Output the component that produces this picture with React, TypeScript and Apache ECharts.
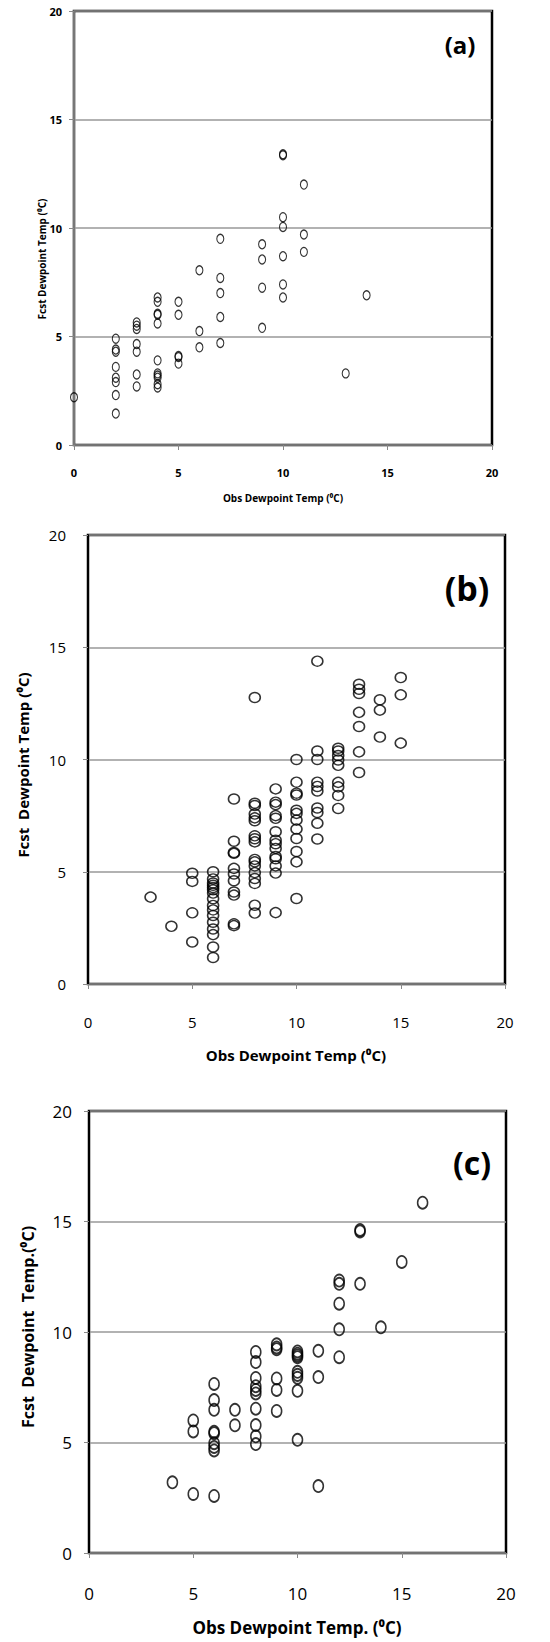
import React, { useEffect, useRef } from "react";
import * as echarts from "echarts";

const AXIS_MIN = 0;
const AXIS_MAX = 20;
const AXIS_STEP = 5;

const PANEL_LABELS = ["(a)", "(b)", "(c)"];
const X_TITLES = [
  "Obs Dewpoint Temp (\u2070C)",
  "Obs Dewpoint Temp (\u2070C)",
  "Obs Dewpoint Temp. (\u2070C)",
];
const Y_TITLES = [
  "Fcst Dewpoint Temp (\u2070C)",
  "Fcst  Dewpoint Temp (\u2070C)",
  "Fcst  Dewpoint  Temp.(\u2070C)",
];

// Panel (a): [observed, forecast]
const dataA: number[][] = [
  [0, 2.2],
  [2, 4.9], [2, 4.4], [2, 4.3], [2, 3.6], [2, 3.1], [2, 2.9], [2, 2.3], [2, 1.45],
  [3, 5.65], [3, 5.5], [3, 5.35], [3, 4.65], [3, 4.3], [3, 3.25], [3, 2.7],
  [4, 6.8], [4, 6.6], [4, 6.05], [4, 6.0], [4, 5.6], [4, 3.9], [4, 3.3], [4, 3.2], [4, 3.1], [4, 2.8], [4, 2.65],
  [5, 6.6], [5, 6.0], [5, 4.1], [5, 4.05], [5, 3.75],
  [6, 8.05], [6, 5.25], [6, 4.5],
  [7, 9.5], [7, 7.7], [7, 7.0], [7, 5.9], [7, 4.7],
  [9, 9.25], [9, 8.55], [9, 7.25], [9, 5.4],
  [10, 13.4], [10, 13.35], [10, 10.5], [10, 10.05], [10, 8.7], [10, 7.4], [10, 6.8],
  [11, 12.0], [11, 9.7], [11, 8.9],
  [13, 3.3], [14, 6.9],
];

// Panel (b)
const dataB: number[][] = [
  [3, 3.87], [4, 2.57],
  [5, 4.93], [5, 4.57], [5, 3.17], [5, 1.87],
  [6, 5.0], [6, 4.68], [6, 4.5], [6, 4.4], [6, 4.3], [6, 4.2], [6, 4.05], [6, 3.8], [6, 3.5], [6, 3.3], [6, 3.05], [6, 2.75], [6, 2.45], [6, 2.2], [6, 1.65], [6, 1.18],
  [7, 8.24], [7, 6.36], [7, 5.86], [7, 5.82], [7, 5.15], [7, 4.9], [7, 4.6], [7, 4.1], [7, 3.96], [7, 2.68], [7, 2.6],
  [8, 12.76], [8, 8.05], [8, 7.95], [8, 7.57], [8, 7.4], [8, 7.27], [8, 6.6], [8, 6.47], [8, 6.33], [8, 5.55], [8, 5.44], [8, 5.26], [8, 4.96], [8, 4.7], [8, 4.48], [8, 3.51], [8, 3.16],
  [9, 8.69], [9, 8.1], [9, 7.99], [9, 7.5], [9, 7.38], [9, 6.78], [9, 6.4], [9, 6.25], [9, 6.04], [9, 5.68], [9, 5.58], [9, 5.26], [9, 4.94], [9, 3.18],
  [10, 10.0], [10, 8.99], [10, 8.5], [10, 8.42], [10, 7.74], [10, 7.6], [10, 7.3], [10, 6.9], [10, 6.48], [10, 5.9], [10, 5.44], [10, 3.81],
  [11, 14.38], [11, 10.38], [11, 10.0], [11, 8.99], [11, 8.8], [11, 8.6], [11, 7.84], [11, 7.64], [11, 7.16], [11, 6.46],
  [12, 10.5], [12, 10.38], [12, 10.18], [12, 9.98], [12, 9.74], [12, 8.98], [12, 8.78], [12, 8.4], [12, 7.82],
  [13, 13.35], [13, 13.13], [13, 12.94], [13, 12.1], [13, 11.47], [13, 10.34], [13, 9.42],
  [14, 12.66], [14, 12.2], [14, 11.0],
  [15, 13.65], [15, 12.88], [15, 10.73],
];

// Panel (c)
const dataC: number[][] = [
  [4, 3.2],
  [5, 6.0], [5, 5.5], [5, 2.67],
  [6, 7.65], [6, 6.92], [6, 6.48], [6, 5.49], [6, 5.42], [6, 4.97], [6, 4.8], [6, 4.64], [6, 2.58],
  [7, 6.48], [7, 5.78],
  [8, 9.1], [8, 8.64], [8, 7.92], [8, 7.55], [8, 7.38], [8, 7.22], [8, 6.53], [8, 5.79], [8, 5.28], [8, 4.93],
  [9, 9.44], [9, 9.3], [9, 9.22], [9, 7.9], [9, 7.38], [9, 6.43],
  [10, 9.12], [10, 9.02], [10, 8.94], [10, 8.86], [10, 8.2], [10, 8.06], [10, 7.93], [10, 7.34], [10, 5.12],
  [11, 9.15], [11, 7.96], [11, 3.03],
  [12, 12.33], [12, 12.18], [12, 11.28], [12, 10.12], [12, 8.86],
  [13, 14.62], [13, 14.55], [13, 12.18],
  [14, 10.21], [15, 13.17], [16, 15.85],
];

const SERIES_DATA = [dataA, dataB, dataC];

// Layout / style per panel
const PANELS = [
  {
    grid: { left: 74, top: 11, width: 418, height: 434 },
    font: "'Open Sans', sans-serif", tickSize: 11, tickWeight: "bold",
    xMargin: 22, yMargin: 12, symbol: [7, 9], stroke: 1.2,
    xTitle: { x: 283, y: 498, size: 10 }, yTitle: { x: 42, y: 259, size: 10 },
    label: { x: 460, y: 44, size: 24 }, leftColor: "#777",
  },
  {
    grid: { left: 88, top: 535, width: 417, height: 449 },
    font: "'Open Sans', sans-serif", tickSize: 15, tickWeight: "normal",
    xMargin: 30, yMargin: 22, symbol: [11, 10], stroke: 1.5,
    xTitle: { x: 296, y: 1055, size: 15 }, yTitle: { x: 23, y: 765, size: 15 },
    label: { x: 467, y: 588, size: 34 }, leftColor: "#000",
  },
  {
    grid: { left: 89, top: 1111, width: 417, height: 442 },
    font: "'Liberation Sans Narrow', 'Open Sans', sans-serif", tickSize: 17, tickWeight: "normal",
    xMargin: 32, yMargin: 17, symbol: [10, 12], stroke: 1.7,
    xTitle: { x: 297, y: 1627, size: 17 }, yTitle: { x: 28, y: 1327, size: 16 },
    label: { x: 472, y: 1162, size: 32 }, leftColor: "#000",
  },
];

function buildOption() {
  const grids: any[] = [];
  const xAxes: any[] = [];
  const yAxes: any[] = [];
  const series: any[] = [];
  const graphics: any[] = [];

  PANELS.forEach((p, i) => {
    grids.push({
      ...p.grid,
      show: true,
      borderColor: "#000",
      borderWidth: 2.5,
      backgroundColor: "transparent",
    });
    const labelStyle = {
      color: "#000",
      fontSize: p.tickSize,
      fontWeight: p.tickWeight,
      fontFamily: p.font,
    };
    xAxes.push({
      type: "value",
      gridIndex: i,
      min: AXIS_MIN,
      max: AXIS_MAX,
      interval: AXIS_STEP,
      axisLine: { show: false },
      axisTick: { show: true, length: 5, lineStyle: { color: "#888", width: 1 } },
      axisLabel: { ...labelStyle, margin: p.xMargin },
      splitLine: { show: false },
    });
    yAxes.push({
      type: "value",
      gridIndex: i,
      min: AXIS_MIN,
      max: AXIS_MAX,
      interval: AXIS_STEP,
      axisLine: { show: true, lineStyle: { color: p.leftColor, width: 2 } },
      axisTick: { show: true, length: 5, lineStyle: { color: "#888", width: 1 } },
      axisLabel: { ...labelStyle, margin: p.yMargin },
      splitLine: { show: true, lineStyle: { color: "#999", width: 1.5 } },
    });
    series.push({
      type: "scatter",
      xAxisIndex: i,
      yAxisIndex: i,
      data: SERIES_DATA[i],
      symbol: "circle",
      symbolSize: p.symbol,
      itemStyle: { color: "rgba(0,0,0,0)", borderColor: "#000", borderWidth: p.stroke },
      emphasis: { disabled: true },
    });
    graphics.push({
      type: "text",
      x: p.xTitle.x,
      y: p.xTitle.y,
      style: {
        text: X_TITLES[i],
        fill: "#000",
        font: `bold ${p.xTitle.size}px ${p.font}`,
        align: "center",
        verticalAlign: "middle",
      },
    });
    graphics.push({
      type: "text",
      x: p.yTitle.x,
      y: p.yTitle.y,
      rotation: Math.PI / 2,
      style: {
        text: Y_TITLES[i],
        fill: "#000",
        font: `bold ${p.yTitle.size}px ${p.font}`,
        align: "center",
        verticalAlign: "middle",
      },
    });
    graphics.push({
      type: "text",
      x: p.label.x,
      y: p.label.y,
      style: {
        text: PANEL_LABELS[i],
        fill: "#000",
        font: `bold ${p.label.size}px ${p.font}`,
        align: "center",
        verticalAlign: "middle",
      },
    });
  });

  return {
    animation: false,
    backgroundColor: "#fff",
    grid: grids,
    xAxis: xAxes,
    yAxis: yAxes,
    series,
    graphic: graphics,
  };
}

export default function App() {
  const ref = useRef<HTMLDivElement>(null);
  useEffect(() => {
    document.body.style.margin = "0";
    const chart = echarts.init(ref.current!, null, { renderer: "svg" });
    chart.setOption(buildOption() as any);
    return () => chart.dispose();
  }, []);
  return <div ref={ref} style={{ width: 550, height: 1642 }} />;
}
